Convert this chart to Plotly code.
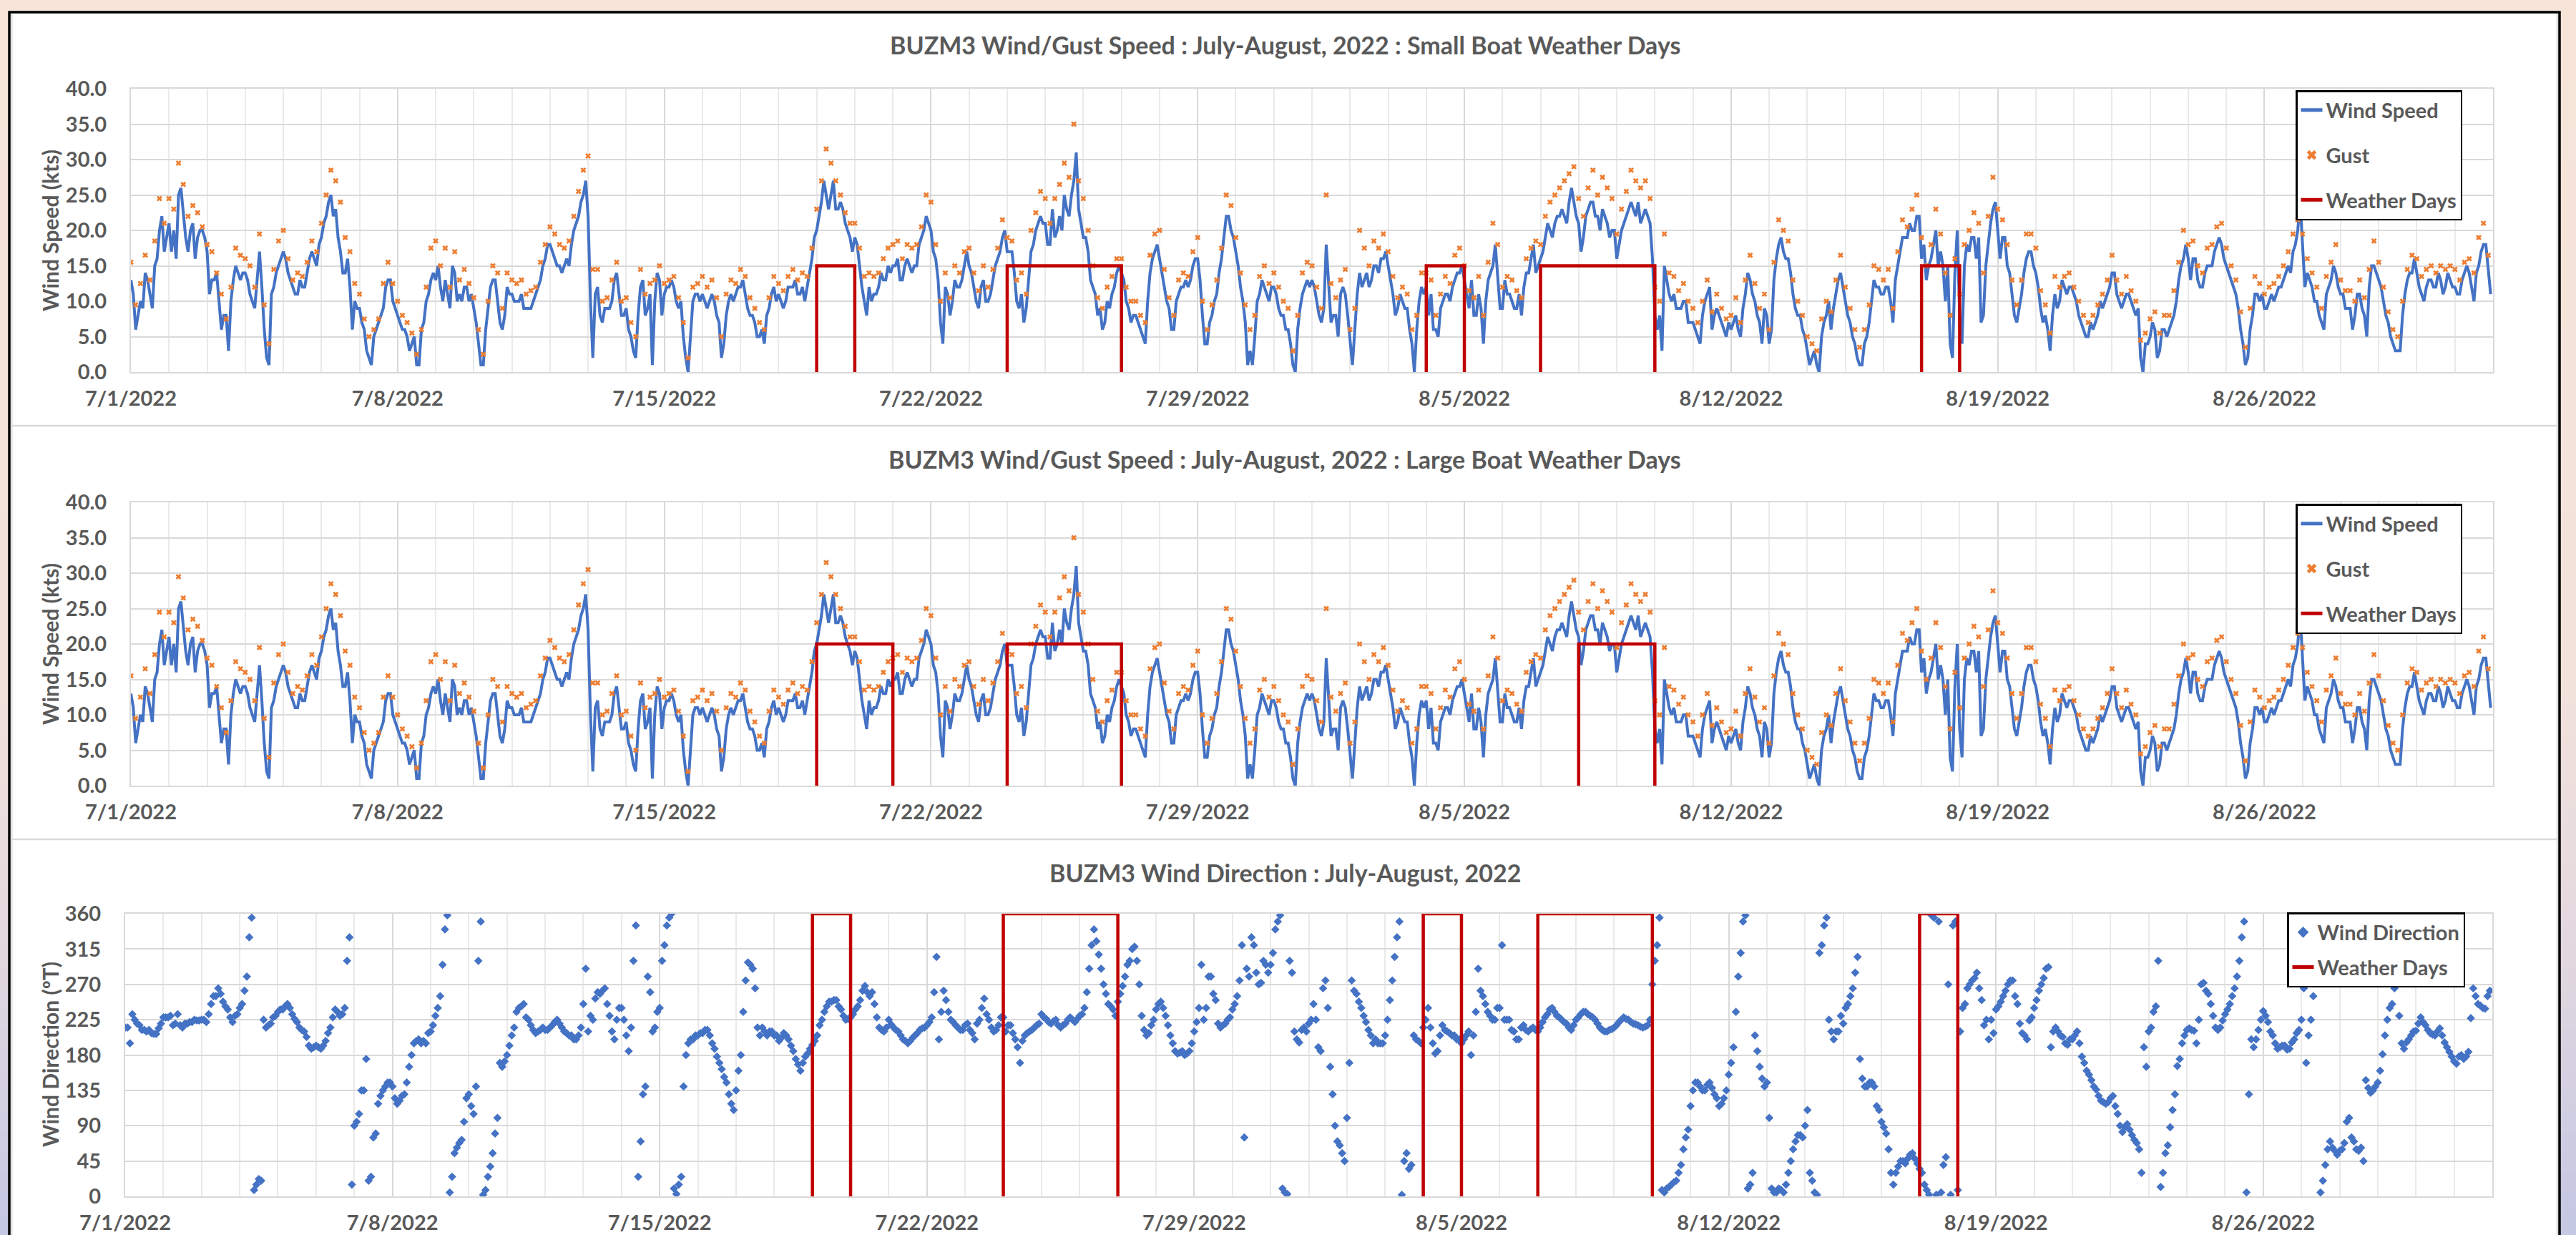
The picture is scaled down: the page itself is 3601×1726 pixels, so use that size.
import plotly.graph_objects as go
import pandas as pd

W, H = 3601, 1726

# ---------------- data (90-minute samples for speed/direction, 3-hourly gusts) ----------------
start_time = "2022-07-01 00:00"
speed_step = "90min"
gust_step = "3h"
dir_step = "90min"

wind_speed = [
    13, 11, 6, 8, 10, 9, 14, 13, 11, 9, 15, 16, 20, 22, 17, 19,          # 7/1
    21, 17, 20, 16, 25, 26, 22, 19, 17, 20, 21, 16, 19, 20, 20, 19,      # 7/2
    17, 11, 13, 13, 14, 10, 6, 8, 8, 3, 10, 13, 15, 14, 13, 14,          # 7/3
    14, 13, 11, 10, 9, 13, 17, 12, 6, 2, 1, 11, 12, 14, 15, 16,          # 7/4
    17, 16, 14, 13, 12, 11, 11, 13, 12, 12, 14, 16, 17, 16, 15, 18,      # 7/5
    19, 21, 22, 24, 25, 22, 23, 19, 17, 14, 14, 16, 12, 6, 10, 9,        # 7/6
    9, 7, 6, 3, 2, 1, 5, 6, 7, 8, 9, 12, 13, 13, 10, 9,                  # 7/7
    8, 7, 6, 6, 5, 3, 4, 5, 1, 1, 6, 7, 10, 11, 13, 14,                  # 7/8
    13, 15, 12, 10, 13, 11, 9, 15, 14, 10, 11, 10, 12, 12, 10, 11,       # 7/9
    9, 7, 4, 1, 1, 6, 9, 12, 13, 13, 10, 7, 6, 8, 12, 11,                # 7/10
    11, 10, 10, 10, 11, 9, 9, 9, 9, 10, 11, 12, 13, 15, 16, 18,          # 7/11
    18, 17, 16, 15, 15, 14, 15, 16, 15, 18, 20, 21, 22, 24, 25, 27,      # 7/12
    22, 10, 2, 11, 12, 8, 7, 9, 9, 9, 10, 13, 14, 11, 8, 8,              # 7/13
    9, 6, 5, 3, 2, 8, 12, 13, 8, 9, 11, 1, 10, 14, 13, 8,                # 7/14
    11, 12, 12, 13, 12, 10, 9, 10, 5, 2, 0, 5, 10, 11, 11, 10,           # 7/15
    11, 10, 9, 10, 11, 10, 8, 7, 2, 4, 8, 10, 11, 10, 11, 12,            # 7/16
    12, 13, 11, 9, 8, 8, 7, 5, 5, 6, 4, 8, 9, 11, 12, 10,                # 7/17
    11, 10, 9, 10, 12, 12, 12, 13, 11, 11, 12, 10, 12, 14, 16, 19,       # 7/18
    20, 22, 24, 27, 25, 23, 25, 27, 23, 23, 24, 23, 21, 20, 19, 17,      # 7/19
    19, 18, 15, 12, 10, 8, 12, 10, 11, 11, 12, 14, 13, 13, 15, 14,       # 7/20
    15, 15, 16, 13, 13, 15, 16, 15, 14, 15, 15, 18, 19, 20, 22, 21,      # 7/21
    20, 17, 16, 13, 7, 4, 12, 11, 8, 10, 13, 12, 12, 13, 15, 17,         # 7/22
    15, 14, 12, 10, 9, 12, 13, 10, 10, 11, 13, 15, 16, 17, 19, 20,       # 7/23
    17, 17, 17, 14, 10, 9, 11, 7, 9, 13, 17, 18, 20, 21, 22, 21,         # 7/24
    21, 18, 18, 23, 19, 20, 22, 20, 25, 23, 22, 25, 27, 31, 23, 21,      # 7/25
    19, 19, 17, 13, 12, 11, 8, 9, 6, 7, 10, 9, 11, 12, 14, 15,           # 7/26
    14, 13, 10, 9, 7, 8, 8, 7, 6, 5, 4, 10, 14, 16, 17, 18,              # 7/27
    16, 14, 12, 10, 9, 6, 6, 10, 11, 12, 12, 13, 12, 13, 15, 16,         # 7/28
    16, 13, 8, 4, 4, 7, 8, 10, 11, 14, 16, 19, 22, 22, 20, 19,           # 7/29
    17, 15, 12, 10, 7, 1, 3, 1, 5, 10, 11, 13, 12, 11, 10, 12,           # 7/30
    12, 11, 9, 8, 8, 6, 6, 4, 1, 0, 6, 9, 11, 12, 13, 12,                # 7/31
    13, 12, 10, 8, 7, 9, 18, 12, 7, 8, 8, 5, 11, 12, 11, 8,              # 8/1
    4, 1, 6, 11, 14, 12, 13, 14, 12, 13, 15, 15, 14, 16, 16, 17,         # 8/2
    15, 13, 11, 8, 9, 11, 10, 9, 9, 6, 4, 0, 6, 10, 12, 11,              # 8/3
    12, 8, 11, 6, 6, 5, 9, 10, 11, 11, 10, 12, 13, 14, 14, 15,           # 8/4
    13, 11, 9, 13, 8, 8, 11, 9, 4, 10, 13, 14, 15, 18, 14, 9,            # 8/5
    9, 13, 11, 11, 10, 9, 9, 11, 8, 12, 14, 14, 16, 18, 14, 15,          # 8/6
    16, 17, 19, 21, 20, 19, 21, 22, 22, 23, 22, 21, 24, 26, 24, 22,      # 8/7
    21, 17, 19, 22, 23, 24, 24, 22, 22, 20, 23, 22, 21, 19, 20, 20,      # 8/8
    16, 18, 20, 21, 22, 23, 24, 23, 22, 24, 21, 22, 23, 22, 21, 16,      # 8/9
    8, 6, 8, 3, 15, 13, 11, 10, 11, 9, 9, 9, 10, 10, 7, 7,               # 8/10
    7, 6, 5, 4, 8, 10, 11, 12, 6, 8, 9, 8, 7, 6, 5, 7,                   # 8/11
    6, 7, 8, 6, 5, 9, 11, 14, 13, 11, 10, 8, 7, 4, 9, 8,                 # 8/12
    4, 6, 13, 16, 18, 19, 17, 16, 16, 14, 11, 9, 8, 8, 6, 5,             # 8/13
    3, 1, 2, 3, 1, 0, 5, 7, 8, 10, 6, 9, 11, 13, 14, 12,                 # 8/14
    10, 8, 7, 5, 4, 2, 1, 1, 4, 5, 7, 10, 13, 12, 12, 11,                # 8/15
    11, 12, 12, 10, 7, 13, 15, 17, 19, 19, 19, 21, 20, 20, 22, 22,       # 8/16
    16, 18, 13, 15, 16, 18, 20, 15, 17, 15, 10, 15, 4, 2, 14, 20,        # 8/17
    8, 4, 15, 18, 17, 19, 19, 16, 19, 7, 8, 15, 18, 21, 23, 24,          # 8/18
    20, 16, 19, 19, 15, 14, 11, 8, 7, 9, 11, 14, 16, 17, 17, 15,         # 8/19
    14, 12, 9, 7, 8, 6, 3, 8, 11, 9, 10, 13, 12, 11, 12, 12,             # 8/20
    11, 10, 8, 7, 6, 5, 5, 7, 6, 7, 8, 10, 9, 10, 11, 12,                # 8/21
    14, 14, 11, 10, 9, 10, 11, 11, 10, 9, 8, 9, 2, 0, 4, 4,              # 8/22
    5, 7, 6, 2, 3, 6, 6, 5, 6, 7, 8, 10, 13, 15, 16, 18,                 # 8/23
    16, 13, 16, 16, 13, 12, 12, 14, 15, 15, 15, 17, 18, 19, 18, 16,      # 8/24
    15, 14, 13, 12, 11, 9, 6, 4, 1, 2, 6, 8, 11, 11, 10, 11,             # 8/25
    9, 9, 10, 11, 10, 11, 12, 12, 13, 14, 15, 14, 17, 18, 20, 24,        # 8/26
    17, 12, 14, 13, 12, 10, 10, 8, 7, 6, 11, 12, 13, 15, 14, 12,         # 8/27
    11, 11, 9, 9, 9, 6, 8, 11, 11, 9, 8, 5, 12, 15, 15, 14,              # 8/28
    13, 12, 10, 8, 7, 5, 4, 3, 3, 3, 8, 11, 13, 14, 14, 16,              # 8/29
    14, 12, 11, 10, 12, 13, 13, 12, 12, 14, 13, 11, 12, 14, 13, 12,      # 8/30
    12, 11, 11, 13, 14, 15, 14, 12, 10, 14, 15, 17, 18, 18, 14, 11,      # 8/31
]

gust_speed = [
    15.5, 9.5, 12.5, 16.5, 13, 18.5, 24.5, 21,        # 7/1
    24.5, 23, 29.5, 26.5, 22, 23.5, 22.5, 20.5,       # 7/2
    18, 17, 14, 11, 7.5, 12, 17.5, 16.5,              # 7/3
    16, 15, 12, 19.5, 9.5, 4, 14.5, 18.5,             # 7/4
    20, 16, 13, 14, 13.5, 15.5, 18.5, 17,             # 7/5
    21, 25, 28.5, 27, 24, 19, 17, 12.5,               # 7/6
    11, 7.5, 5, 6, 7.5, 12.5, 15.5, 12.5,             # 7/7
    10, 8, 7, 5.5, 2.5, 6, 12, 17.5,                  # 7/8
    18.5, 15, 17.5, 12, 17, 13, 14.5, 12.5,           # 7/9
    10.5, 6, 2.5, 10, 15, 14, 9, 14,                  # 7/10
    13, 12.5, 13, 11, 11.5, 12, 15.5, 18,             # 7/11
    20.5, 19.5, 18, 17.5, 18.5, 22, 25.5, 28.5,       # 7/12
    30.5, 14.5, 14.5, 10, 10.5, 13, 15.5, 10,         # 7/13
    10.5, 7, 5, 14.5, 11, 12.5, 13, 15,               # 7/14
    12.5, 13, 13.5, 10.5, 7, 2, 12, 12.5,             # 7/15
    13.5, 12, 13, 10.5, 5, 11, 13, 12.5,              # 7/16
    14.5, 13.5, 10.5, 9, 7, 6, 10.5, 13.5,            # 7/17
    12.5, 11.5, 13.5, 14.5, 13, 14, 13.5, 17.5,       # 7/18
    23, 27, 31.5, 29.5, 27, 25, 22.5, 21,             # 7/19
    21, 17.5, 13.5, 14, 13.5, 14, 16, 17.5,           # 7/20
    18, 18.5, 16, 18, 17.5, 18, 20.5, 25,             # 7/21
    24, 18, 10, 14, 10.5, 15, 14, 17,                 # 7/22
    17.5, 14, 11.5, 15, 12, 14.5, 17.5, 21.5,         # 7/23
    19, 18.5, 13, 14, 11, 20, 22.5, 25.5,             # 7/24
    24.5, 21, 24.5, 26.5, 29.5, 27.5, 35, 27,         # 7/25
    24.5, 20, 15, 10.5, 9, 12, 13.5, 16,              # 7/26
    16, 12, 10, 10, 8, 7, 16.5, 19.5,                 # 7/27
    20, 14.5, 10.5, 8, 13, 14, 13.5, 17,              # 7/28
    19, 10, 6, 9.5, 13, 17.5, 25, 23.5,               # 7/29
    19, 14, 9.5, 6, 8, 13.5, 15, 12.5,                # 7/30
    14, 12, 10, 9, 3, 8, 14, 15.5,                    # 7/31
    15, 12, 9, 25, 12.5, 10.5, 13, 14.5,              # 8/1
    6, 9, 20, 17.5, 15, 18.5, 17.5, 19.5,             # 8/2
    17, 13.5, 10.5, 12, 11, 6, 8, 14,                 # 8/3
    14, 13, 8, 11, 13.5, 12.5, 16.5, 17.5,            # 8/4
    15, 11.5, 10.5, 13.5, 8, 15.5, 21, 18,            # 8/5
    12, 13.5, 13, 11.5, 10.5, 16, 17.5, 18.5,         # 8/6
    18, 22, 24, 25, 26, 27, 28, 29,                   # 8/7
    24.5, 22, 26, 28.5, 25, 27.5, 26, 24.5,           # 8/8
    19.5, 23, 25.5, 28.5, 27, 26, 27, 24.5,           # 8/9
    12, 10, 19.5, 14, 13.5, 11.5, 12.5, 10,           # 8/10
    9, 7, 10, 13, 8.5, 11, 9, 7.5,                    # 8/11
    8, 10.5, 7, 13, 16.5, 12.5, 9, 11,                # 8/12
    6, 15.5, 21.5, 20, 18.5, 13, 10, 8,               # 8/13
    5, 4, 3, 7.5, 10, 8.5, 13, 16.5,                  # 8/14
    12, 9, 6, 3.5, 6, 9.5, 15, 14.5,                  # 8/15
    13, 14.5, 9, 17, 21.5, 20.5, 23, 25,              # 8/16
    19, 15, 18, 23, 19.5, 14, 8, 16,                  # 8/17
    11, 18, 20, 22.5, 21, 14, 22, 27.5,               # 8/18
    23, 21.5, 18, 13, 9.5, 13, 19.5, 19.5,            # 8/19
    17.5, 11.5, 9.5, 5.5, 13.5, 12, 13.5, 14,         # 8/20
    12, 10, 8, 7, 8, 9.5, 11, 13,                     # 8/21
    16.5, 13, 11, 13.5, 11.5, 10, 4.5, 5.5,           # 8/22
    7.5, 8.5, 5.5, 8, 8, 11.5, 15.5, 20,              # 8/23
    18, 18.5, 15, 14, 17.5, 18, 20.5, 21,             # 8/24
    17.5, 15, 13, 8.5, 3.5, 9, 13.5, 12.5,            # 8/25
    11, 12, 12.5, 13.5, 15, 17, 19.5, 21.5,           # 8/26
    19.5, 16, 14, 12, 9, 13.5, 15.5, 18,              # 8/27
    13, 11.5, 11.5, 10, 13, 10.5, 14.5, 18.5,         # 8/28
    15.5, 12, 8.5, 6, 5, 10, 14.5, 16.5,              # 8/29
    16, 13.5, 14.5, 15, 14, 15, 14.5, 15,             # 8/30
    14.5, 13, 15.5, 16, 14, 19, 21, 16.5,             # 8/31
]

wind_direction = [
    215, 215, 195, 232, 225, 220, 218, 212, 212, 210, 212, 208, 207, 207, 214, 220,   # 7/1
    228, 228, 228, 230, 218, 220, 232, 218, 215, 220, 220, 222, 222, 225, 224, 224,   # 7/2
    225, 225, 222, 232, 245, 255, 255, 265, 258, 248, 242, 238, 228, 222, 230, 232,   # 7/3
    240, 245, 262, 280, 330, 355, 8, 15, 22, 20, 225, 215, 218, 220, 228, 230,        # 7/4
    235, 238, 238, 242, 245, 240, 232, 226, 222, 215, 212, 210, 203, 192, 188, 190,   # 7/5
    192, 190, 188, 192, 198, 208, 215, 228, 238, 235, 230, 232, 240, 300, 330, 15,    # 7/6
    90, 95, 105, 135, 135, 175, 20, 25, 75, 80, 118, 128, 135, 140, 145, 145,         # 7/7
    140, 125, 118, 122, 128, 130, 145, 165, 180, 195, 198, 200, 195, 198, 195, 208,   # 7/8
    210, 218, 230, 240, 255, 295, 340, 358, 5, 25, 55, 62, 68, 72, 95, 125,           # 7/9
    130, 115, 105, 140, 300, 350, 2, 8, 25, 38, 55, 80, 100, 170, 165, 172,           # 7/10
    180, 192, 205, 215, 235, 240, 242, 245, 228, 225, 218, 212, 208, 210, 212, 215,   # 7/11
    212, 212, 215, 218, 222, 225, 220, 215, 210, 208, 205, 205, 200, 200, 205, 215,   # 7/12
    245, 290, 210, 230, 225, 252, 260, 258, 262, 265, 245, 230, 210, 200, 225, 240,   # 7/13
    240, 225, 205, 185, 215, 300, 345, 25, 70, 130, 140, 280, 260, 210, 215, 235,     # 7/14
    240, 300, 320, 345, 355, 360, 10, 3, 15, 25, 140, 180, 195, 200, 200, 205,        # 7/15
    205, 208, 208, 212, 212, 205, 195, 188, 178, 170, 162, 152, 145, 130, 118, 110,   # 7/16
    135, 160, 180, 235, 275, 298, 295, 290, 265, 215, 205, 215, 210, 205, 210, 210,   # 7/17
    205, 205, 198, 202, 208, 205, 200, 192, 185, 175, 168, 160, 170, 178, 182, 188,   # 7/18
    193, 198, 205, 218, 225, 235, 242, 248, 248, 250, 250, 242, 238, 230, 225, 226,   # 7/19
    228, 232, 238, 242, 250, 262, 268, 260, 255, 260, 245, 228, 215, 212, 210, 215,   # 7/20
    225, 219, 215, 212, 210, 205, 200, 198, 195, 198, 202, 205, 208, 212, 214, 215,   # 7/21
    218, 222, 228, 260, 305, 200, 235, 262, 250, 235, 225, 222, 218, 215, 212, 212,   # 7/22
    218, 220, 212, 208, 200, 220, 225, 240, 252, 232, 225, 215, 210, 212, 218, 228,   # 7/23
    228, 210, 218, 218, 208, 200, 190, 170, 198, 205, 208, 210, 212, 215, 218, 220,   # 7/24
    232, 228, 226, 222, 220, 223, 225, 218, 215, 218, 220, 225, 228, 225, 222, 226,   # 7/25
    230, 232, 240, 260, 290, 320, 340, 325, 308, 290, 270, 258, 245, 242, 238, 230,   # 7/26
    248, 258, 268, 280, 295, 300, 315, 318, 300, 270, 230, 212, 205, 208, 218, 225,   # 7/27
    238, 245, 248, 240, 230, 218, 205, 195, 185, 182, 183, 185, 180, 182, 185, 195,   # 7/28
    210, 222, 240, 295, 225, 240, 280, 280, 258, 250, 220, 215, 218, 220, 225, 228,   # 7/29
    238, 245, 255, 275, 320, 75, 290, 280, 330, 320, 285, 270, 272, 300, 295, 285,    # 7/30
    295, 310, 340, 350, 358, 10, 5, 3, 300, 285, 210, 200, 196, 212, 215, 210,        # 7/31
    220, 225, 245, 225, 190, 185, 265, 275, 240, 165, 130, 90, 70, 65, 55, 45,        # 8/1
    100, 170, 275, 262, 258, 248, 240, 230, 222, 212, 205, 195, 200, 195, 195, 195,   # 8/2
    205, 225, 250, 275, 305, 330, 350, 2, 45, 55, 35, 40, 205, 200, 198, 195,         # 8/3
    215, 225, 240, 215, 195, 182, 185, 205, 218, 212, 210, 208, 205, 205, 200, 200,   # 8/4
    195, 200, 205, 210, 180, 205, 235, 290, 262, 255, 245, 235, 230, 225, 225, 240,   # 8/5
    240, 320, 225, 225, 225, 212, 210, 200, 200, 215, 218, 212, 210, 213, 215, 212,   # 8/6
    210, 215, 222, 228, 232, 238, 240, 235, 230, 228, 225, 222, 220, 215, 212, 218,   # 8/7
    225, 228, 232, 235, 235, 232, 230, 228, 225, 220, 215, 212, 210, 210, 212, 213,   # 8/8
    215, 218, 222, 225, 228, 226, 225, 222, 220, 219, 218, 216, 215, 216, 218, 225,   # 8/9
    270, 300, 320, 355, 8, 5, 10, 12, 15, 18, 20, 30, 40, 60, 75, 85,                 # 8/10
    115, 135, 145, 145, 140, 135, 135, 142, 145, 138, 130, 125, 115, 118, 125, 135,   # 8/11
    155, 170, 190, 235, 280, 310, 350, 358, 10, 15, 30, 205, 185, 165, 150, 140,      # 8/12
    145, 100, 10, 5, 5, 10, 8, 5, 15, 30, 45, 60, 70, 78, 78, 75,                     # 8/13
    90, 110, 30, 20, 5, 2, 310, 320, 345, 355, 225, 210, 200, 210, 210, 230,          # 8/14
    220, 240, 245, 255, 265, 285, 305, 175, 150, 140, 140, 145, 145, 140, 115, 110,   # 8/15
    95, 88, 80, 60, 30, 15, 30, 38, 45, 45, 42, 48, 53, 55, 48, 42,                   # 8/16
    35, 30, 15, 8, 2, 358, 355, 2, 350, 5, 40, 50, 270, 2, 345, 350,                  # 8/17
    8, 210, 240, 245, 265, 270, 275, 278, 285, 265, 250, 218, 225, 200, 225, 208,     # 8/18
    238, 242, 248, 255, 262, 270, 275, 275, 255, 245, 220, 208, 205, 200, 224, 228,   # 8/19
    240, 250, 262, 270, 278, 290, 292, 190, 210, 215, 210, 205, 203, 195, 193, 200,   # 8/20
    200, 205, 210, 195, 178, 170, 160, 155, 148, 140, 136, 128, 122, 120, 118, 120,   # 8/21
    125, 128, 115, 105, 90, 82, 88, 92, 85, 78, 72, 68, 60, 30, 190, 165,             # 8/22
    210, 215, 235, 242, 300, 12, 30, 55, 65, 88, 110, 130, 166, 175, 195, 205,        # 8/23
    212, 214, 212, 211, 195, 225, 270, 272, 262, 258, 245, 230, 215, 212, 215, 224,   # 8/24
    232, 238, 245, 255, 265, 280, 300, 330, 350, 5, 130, 200, 190, 200, 212, 225,     # 8/25
    236, 230, 222, 210, 205, 195, 188, 190, 192, 192, 187, 188, 196, 200, 208, 212,   # 8/26
    225, 265, 170, 205, 225, 255, 275, 290, 5, 20, 40, 60, 70, 62, 58, 53,            # 8/27
    58, 60, 68, 95, 100, 75, 70, 60, 58, 62, 45, 148, 138, 132, 135, 140,             # 8/28
    145, 160, 181, 205, 225, 240, 245, 265, 270, 230, 195, 188, 196, 200, 205, 210,   # 8/29
    211, 220, 228, 222, 218, 212, 208, 206, 205, 210, 214, 205, 196, 190, 184, 178,   # 8/30
    172, 169, 178, 180, 175, 178, 184, 227, 265, 255, 245, 243, 240, 239, 255, 262,   # 8/31
]

# weather days: (start, end) pairs
small_boat_days = [("2022-07-19", "2022-07-20"), ("2022-07-24", "2022-07-27"),
                   ("2022-08-04", "2022-08-05"), ("2022-08-07", "2022-08-10"),
                   ("2022-08-17", "2022-08-18")]
large_boat_days = [("2022-07-19", "2022-07-21"), ("2022-07-24", "2022-07-27"),
                   ("2022-08-08", "2022-08-10")]
small_boat_level = 15
large_boat_level = 20
direction_level = 360

tick_dates = ["2022-07-01", "2022-07-08", "2022-07-15", "2022-07-22", "2022-07-29",
              "2022-08-05", "2022-08-12", "2022-08-19", "2022-08-26"]
tick_labels = ["7/1/2022", "7/8/2022", "7/15/2022", "7/22/2022", "7/29/2022",
               "8/5/2022", "8/12/2022", "8/19/2022", "8/26/2022"]

titles = ["BUZM3 Wind/Gust Speed : July-August, 2022 : Small Boat Weather Days",
          "BUZM3 Wind/Gust Speed : July-August, 2022 : Large Boat Weather Days",
          "BUZM3 Wind Direction : July-August, 2022"]

# ---------------- helpers ----------------
def px(x):
    return x / W

def py(y):
    return 1 - y / H

def times_for(values, freq):
    return pd.date_range(start_time, periods=len(values), freq=freq)

def box_path(days, level):
    xs, ys = [], []
    for s, e in days:
        xs += [s, s, e, e, None]
        ys += [0, level, level, 0, None]
    return xs, ys

BLUE = "#4472C4"
ORANGE = "#ED7D31"
RED = "#C00000"
TXT = "#595959"
GRID = "#D9D9D9"
FONT = "Lato"

fig = go.Figure()

t_speed = times_for(wind_speed, speed_step)
t_gust = times_for(gust_speed, gust_step)
t_dir = times_for(wind_direction, dir_step)

for i, (days, level) in enumerate([(small_boat_days, small_boat_level),
                                   (large_boat_days, large_boat_level)]):
    xa = "x" if i == 0 else "x2"
    ya = "y" if i == 0 else "y2"
    lg = "legend" if i == 0 else "legend2"
    fig.add_trace(go.Scatter(x=t_speed, y=wind_speed, mode="lines", name="Wind Speed",
                             line=dict(color=BLUE, width=4), xaxis=xa, yaxis=ya,
                             legend=lg, legendgroup=f"ws{i}"))
    fig.add_trace(go.Scatter(x=t_gust, y=gust_speed, mode="markers", name="Gust",
                             marker=dict(color=ORANGE, symbol="x", size=7),
                             xaxis=xa, yaxis=ya, legend=lg, legendgroup=f"g{i}"))
    bx, by = box_path(days, level)
    fig.add_trace(go.Scatter(x=bx, y=by, mode="lines", name="Weather Days",
                             line=dict(color=RED, width=4.5), xaxis=xa, yaxis=ya,
                             legend=lg, legendgroup=f"wd{i}"))

fig.add_trace(go.Scatter(x=t_dir, y=wind_direction, mode="markers", name="Wind Direction",
                         marker=dict(color=BLUE, symbol="diamond", size=9),
                         xaxis="x3", yaxis="y3", legend="legend3", legendgroup="wdir"))
bx, by = box_path(small_boat_days, direction_level)
fig.add_trace(go.Scatter(x=bx, y=by, mode="lines", name="Weather Days",
                         line=dict(color=RED, width=4.5), xaxis="x3", yaxis="y3",
                         legend="legend3", legendgroup="wd3"))

tickfont = dict(family=FONT, size=29, color=TXT, weight="bold")

def xaxis_cfg(x0, x1, anchor):
    return dict(domain=[px(x0), px(x1)], anchor=anchor, type="date",
                range=["2022-07-01", "2022-09-01"], automargin=False,
                tickmode="array", tickvals=tick_dates, ticktext=tick_labels,
                tickangle=0, tickfont=tickfont, ticks="", ticklabelstandoff=10,
                showgrid=True, gridcolor=GRID, gridwidth=2,
                minor=dict(tick0="2022-07-01", dtick=86400000, showgrid=True,
                           gridcolor="#EAEAEA", gridwidth=1.5),
                showline=True, linecolor=GRID, linewidth=2, mirror=True,
                zeroline=False)

def yaxis_cfg(y0, y1, anchor, rng, dt, fmt):
    return dict(domain=[py(y1), py(y0)], anchor=anchor, range=rng, dtick=dt,
                tick0=0, tickformat=fmt, tickfont=tickfont, ticks="",
                ticklabelstandoff=26, automargin=False,
                showgrid=True, gridcolor=GRID, gridwidth=2,
                showline=True, linecolor=GRID, linewidth=2, mirror=True,
                zeroline=False)

legend_common = dict(xanchor="left", yanchor="top", bgcolor="white",
                     bordercolor="black", borderwidth=2.5,
                     font=dict(family=FONT, size=29, color=TXT, weight="bold"),
                     itemsizing="constant", traceorder="grouped")

# background: gradient strips, white chart area, borders
shapes = []
stops = [(0.0, (246, 228, 216)), (0.55, (242, 226, 219)), (0.75, (228, 217, 223)),
         (1.0, (196, 199, 227))]

def grad(t):
    for (t0, c0), (t1, c1) in zip(stops[:-1], stops[1:]):
        if t0 <= t <= t1:
            f = (t - t0) / (t1 - t0)
            return "rgb(%d,%d,%d)" % tuple(round(a + (b - a) * f) for a, b in zip(c0, c1))
    return "rgb(%d,%d,%d)" % stops[-1][1]

n = 60
for k in range(n):
    ya0 = k / n
    ya1 = (k + 1) / n + 0.002
    shapes.append(dict(type="rect", xref="paper", yref="paper", x0=0, x1=1,
                       y0=1 - ya1, y1=1 - ya0, fillcolor=grad((k + 0.5) / n),
                       line=dict(width=0), layer="below"))
shapes.append(dict(type="rect", xref="paper", yref="paper", x0=px(14), x1=px(3577),
                   y0=py(1780), y1=py(18), fillcolor="white", line=dict(width=0),
                   layer="below"))
for ysep in [595, 1173]:
    shapes.append(dict(type="line", xref="paper", yref="paper", x0=px(16), x1=px(3575),
                       y0=py(ysep), y1=py(ysep), line=dict(color=GRID, width=2.5),
                       layer="below"))
shapes.append(dict(type="line", xref="paper", yref="paper", x0=px(3575), x1=px(3575),
                   y0=py(1780), y1=py(19), line=dict(color=GRID, width=2.5), layer="below"))
shapes.append(dict(type="line", xref="paper", yref="paper", x0=px(16.5), x1=px(16.5),
                   y0=py(1780), y1=py(19), line=dict(color=GRID, width=2), layer="below"))
shapes.append(dict(type="rect", xref="paper", yref="paper", x0=px(13), x1=px(3578),
                   y0=py(1790), y1=py(17), fillcolor="rgba(0,0,0,0)",
                   line=dict(color="black", width=3.5), layer="below"))

annotations = []
for ttl, yc in zip(titles, [63, 641, 1219]):
    annotations.append(dict(text=ttl, x=px(1796), y=py(yc), xref="paper", yref="paper",
                            xanchor="center", yanchor="middle", showarrow=False,
                            font=dict(family=FONT, size=34, color=TXT, weight="bold")))
for ttl, yc in [("Wind Speed (kts)", 322), ("Wind Speed (kts)", 900),
                ("Wind Direction (ºT)", 1474)]:
    annotations.append(dict(text=ttl, x=px(70), y=py(yc), xref="paper", yref="paper",
                            xanchor="center", yanchor="middle", showarrow=False,
                            textangle=-90,
                            font=dict(family=FONT, size=30, color=TXT, weight="bold")))

fig.update_layout(
    width=W, height=H, autosize=False,
    margin=dict(l=0, r=0, t=0, b=0, pad=0, autoexpand=False),
    paper_bgcolor="rgb(246,228,216)", plot_bgcolor="white",
    font=dict(family=FONT, color=TXT),
    xaxis=xaxis_cfg(183, 3485, "y"),
    yaxis=yaxis_cfg(124, 520, "x", [0, 40], 5, ".1f"),
    xaxis2=xaxis_cfg(183, 3485, "y2"),
    yaxis2=yaxis_cfg(702, 1098, "x2", [0, 40], 5, ".1f"),
    xaxis3=xaxis_cfg(175, 3484, "y3"),
    yaxis3=yaxis_cfg(1277, 1672, "x3", [0, 360], 45, "d"),
    legend=dict(x=px(3209), y=py(126), tracegroupgap=22, **legend_common),
    legend2=dict(x=px(3209), y=py(704), tracegroupgap=22, **legend_common),
    legend3=dict(x=px(3197), y=py(1275), tracegroupgap=8, **legend_common),
    shapes=shapes,
    annotations=annotations,
    showlegend=True,
)

fig.write_html("out.html", config={"displayModeBar": False},
               post_script="document.body.style.margin='0px';document.body.style.overflow='hidden';")
